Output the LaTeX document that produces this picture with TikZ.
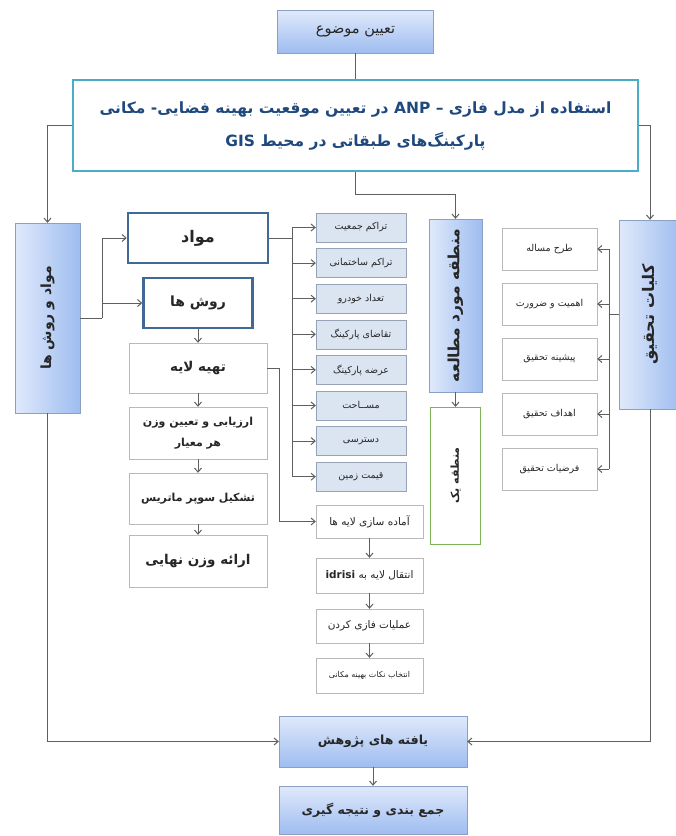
\documentclass[tikz,border=0pt]{standalone}
\usepackage{fontspec}
\setmainfont[Script=Arabic]{DejaVu Sans}
\TeXXeTstate=1
\usetikzlibrary{arrows.meta}
\newcommand{\fatext}[1]{\beginR #1\endR}
\definecolor{linegray}{RGB}{95,95,95}
\definecolor{lightblue}{RGB}{224,233,251}
\definecolor{midblue}{RGB}{158,189,240}
\definecolor{blueedge}{RGB}{140,160,195}
\definecolor{cellfill}{RGB}{219,228,241}
\definecolor{celledge}{RGB}{150,162,182}
\definecolor{greyedge}{RGB}{185,185,185}
\definecolor{tealedge}{RGB}{75,172,198}
\definecolor{steeledge}{RGB}{65,105,150}
\definecolor{greenedge}{RGB}{125,180,85}
\definecolor{titletext}{RGB}{31,73,125}
\tikzset{
  every node/.style={inner sep=0pt, text=black!85},
  line/.style={draw=linegray, line width=1pt},
  arr/.style={line, -{Straight Barb[length=4pt,width=7pt]}},
  topbox/.style={draw=blueedge, top color=lightblue, bottom color=midblue},
  sidebox/.style={draw=blueedge, left color=lightblue, right color=midblue,
    font=\fontsize{14}{16}\selectfont\bfseries},
  titlebox/.style={draw=tealedge, line width=2.5pt, fill=white, align=center,
    text=titletext, font=\fontsize{15.5}{33}\selectfont\bfseries},
  headbox/.style={draw=steeledge, line width=2.5pt, fill=white,
    font=\fontsize{14}{16}\selectfont\bfseries},
  methodbox/.style={draw=greyedge, fill=white, align=center,
    font=\fontsize{11}{22}\selectfont\bfseries, minimum width=138},
  cellbox/.style={draw=celledge, fill=cellfill, minimum width=90, minimum height=29,
    font=\fontsize{9.5}{11}\selectfont},
  stepbox/.style={draw=greyedge, fill=white, minimum width=107,
    font=\fontsize{10.5}{12}\selectfont},
  itembox/.style={draw=greyedge, fill=white, minimum width=95, minimum height=42,
    font=\fontsize{9.5}{11}\selectfont},
  resultbox/.style={draw=blueedge, top color=lightblue, bottom color=midblue,
    minimum width=188, font=\fontsize{12.5}{15}\selectfont\bfseries}
}
\begin{document}
\begin{tikzpicture}[x=1pt,y=-1pt]
  \useasboundingbox (0,0) rectangle (676,836);
  \node[topbox, minimum width=156, minimum height=43, font=\fontsize{14.5}{16}\selectfont] (topic) at (355.5,31.5) {\fatext{تعیین موضوع}};
  \node[titlebox, minimum width=565, minimum height=91] (title) at (355.5,125.5)
    {\fatext{استفاده از مدل فازی – \beginL ANP\endL{} در تعیین موقعیت بهینه فضایی- مکانی}\\\fatext{پارکینگ‌های طبقاتی در محیط \beginL GIS\endL}};

  \node[sidebox, minimum width=65, minimum height=190] (mrbox) at (47.5,318) {\rotatebox{90}{\fatext{مواد و روش ها}}};
  \node[sidebox, minimum width=53, minimum height=173, font=\fontsize{15.5}{18}\selectfont\bfseries] (mantaqe) at (455.5,305.5) {\rotatebox{90}{\fatext{منطقه مورد مطالعه}}};
  \node[draw=greenedge, fill=white, minimum width=50, minimum height=137, font=\fontsize{11}{13}\selectfont\bfseries] (mantaqeyek) at (455.5,475.5) {\rotatebox{90}{\fatext{منطقه یک}}};
  \node[sidebox, minimum width=62, minimum height=189, font=\fontsize{16}{18}\selectfont\bfseries] (kolliyat) at (650,314.5) {\rotatebox{90}{\fatext{کلیات تحقیق}}};

  \node[headbox, minimum width=140, minimum height=50, font=\fontsize{16}{18}\selectfont\bfseries] (mavad) at (198,238) {\fatext{مواد}};
  \node[headbox, minimum width=109, minimum height=50] (ravesh) at (198,303) {\fatext{روش ها}};
  \node[methodbox, minimum height=50, font=\fontsize{13.5}{16}\selectfont\bfseries] (tahiye) at (198,368) {\fatext{تهیه لایه}};
  \node[methodbox, minimum height=52, font=\fontsize{11}{21}\selectfont\bfseries] (arzyabi) at (198,433) {\fatext{ارزیابی و تعیین وزن}\\\fatext{هر معیار}};
  \node[methodbox, minimum height=51] (tashkil) at (198,498.5) {\fatext{تشکیل سوپر ماتریس}};
  \node[methodbox, minimum height=52, font=\fontsize{13.5}{16}\selectfont\bfseries] (eraee) at (198,561) {\fatext{ارائه وزن نهایی}};

  \foreach \txt [count=\i] in {تراکم جمعیت, تراکم ساختمانی, تعداد خودرو, تقاضای پارکینگ, عرضه پارکینگ, مســاحت, دسترسی, قیمت زمین}
    \node[cellbox] (b\i) at (361,{227.5+35.6*(\i-1)}) {\fatext{\txt}};

  \node[stepbox, minimum height=33] (amadeh) at (369.5,521.5) {\fatext{آماده سازی لایه ها}};
  \node[stepbox, minimum height=35] (enteqal) at (369.5,575.5) {\fatext{انتقال لایه به \beginL\bfseries idrisi\endL}};
  \node[stepbox, minimum height=34] (amaliat) at (369.5,626) {\fatext{عملیات فازی کردن}};
  \node[stepbox, minimum height=35, font=\fontsize{8}{10}\selectfont] (entekhab) at (369.5,675.5) {\fatext{انتخاب نکات بهینه مکانی}};

  \foreach \txt [count=\i] in {طرح مساله, اهمیت و ضرورت, پیشینه تحقیق, اهداف تحقیق, فرضیات تحقیق}
    \node[itembox] (r\i) at (549.5,{249+55*(\i-1)}) {\fatext{\txt}};

  \node[resultbox, minimum height=51] (yafte) at (373,741.5) {\fatext{یافته های پژوهش}};
  \node[resultbox, minimum height=48] (jambandi) at (373,810) {\fatext{جمع بندی  و نتیجه گیری}};

  \draw[line] (topic) -- (title);
  \draw[arr] (title.west) -| (mrbox.north);
  \draw[arr] (title.east) -| (kolliyat.north);
  \draw[arr] (title.south) -- ++(0,22) -| (mantaqe.north);
  \draw[arr] (mantaqe) -- (mantaqeyek);

  \coordinate (split) at (102,318);
  \draw[line] (mrbox.east) -- (split);
  \draw[arr] (split) |- (mavad.west);
  \draw[arr] (split) |- (ravesh.west);

  \coordinate (trunk) at (292,238);
  \draw[line] (mavad.east) -- (trunk);
  \draw[line] (trunk |- b1.west) -- (trunk |- b8.west);
  \foreach \i in {1,...,8}
    \draw[arr] (trunk |- b\i.west) -- (b\i.west);

  \draw[arr] (ravesh) -- (tahiye);
  \draw[arr] (tahiye) -- (arzyabi);
  \draw[arr] (arzyabi) -- (tashkil);
  \draw[arr] (tashkil) -- (eraee);

  \draw[arr] (tahiye.east) -- ++(12,0) |- (amadeh.west);
  \draw[arr] (amadeh) -- (enteqal);
  \draw[arr] (enteqal) -- (amaliat);
  \draw[arr] (amaliat) -- (entekhab);

  \coordinate (rtrunk) at (609,314.5);
  \draw[line] (kolliyat.west) -- (rtrunk);
  \draw[line] (rtrunk |- r1.east) -- (rtrunk |- r5.east);
  \foreach \i in {1,...,5}
    \draw[arr] (rtrunk |- r\i.east) -- (r\i.east);

  \draw[arr] (mrbox.south) |- (yafte.west);
  \draw[arr] (kolliyat.south) |- (yafte.east);
  \draw[arr] (yafte) -- (jambandi);
\end{tikzpicture}
\end{document}
